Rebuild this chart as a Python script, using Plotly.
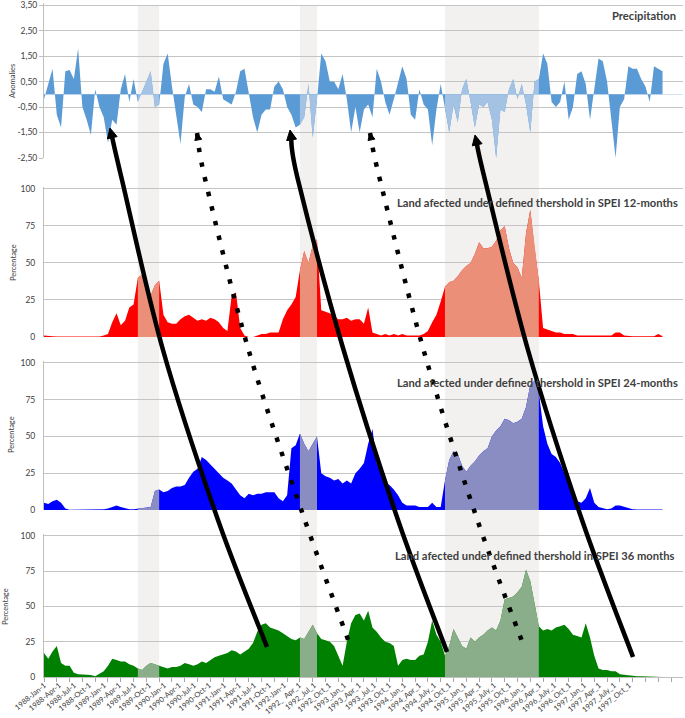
import plotly.graph_objects as go

# ---------------- data (monthly, index 0 = 1988-Jan) ----------------
MONTHS = list(range(146))

PRECIP = [-0.2, 0.4, 1.0, -0.8, -1.3, 0.9, 0.95, 0.6, 1.8, -0.5,
          -1.0, -1.6, 0.2, -0.5, -0.9, -1.9, -1.0, -1.2, 0.2, 0.8,
          -0.3, 0.6, -0.3, 0.1, 0.5, 0.9, -0.5, -0.4, 1.2, 1.6,
          0.3, -0.8, -1.95, -0.1, 0.4, -0.4, -0.5, -0.7, 0.2, 0.2,
          0.1, 0.7, -0.2, -0.3, -0.4, 0.1, 0.9, 1.0, 0.0, -0.9,
          -1.5, -0.8, -0.6, -0.6, 0.3, 0.5, 0.2, -0.5, -0.8, -1.3,
          -1.2, -0.9, 0.4, -1.7, -0.2, 1.6, 1.3, 0.5, 0.5, 0.2,
          0.8, -0.2, -1.5, -0.5, -1.5, -0.6, -0.4, -0.9, 1.0, 0.5,
          -0.3, -0.8, -0.2, 0.4, 1.1, 0.6, -0.8, -1.0, 0.2, -0.4,
          -0.6, -2.0, -0.6, 0.4, -0.5, -1.5, -0.4, -1.1, 0.2, 0.6,
          -0.3, -1.3, -0.4, -0.5, -0.3, -1.0, -2.5, -0.6, -0.7, 0.2,
          0.6, -0.2, 0.4, -0.4, -1.5, 0.5, 0.6, 1.6, 1.2, -0.3,
          -0.5, -0.3, 0.5, -1.0, -0.5, 0.8, 0.9, 0.4, -1.0, 0.2,
          1.4, 1.3, 0.5, -1.0, -2.5, -0.5, -0.2, 1.1, 1.0, 1.0,
          0.6, 0.3, -0.3, 1.1, 1.0, 0.9]

SPEI12 = [1, 1, 0.5, 0.3, 0.3, 0.3, 0.3, 0.3, 0.3, 0.3,
          0.3, 0.3, 0.3, 0.3, 1, 2, 10, 16, 8, 11,
          20, 22, 40, 42, 38, 28, 35, 38, 15, 10,
          9, 9, 12, 14, 15, 13, 11, 12, 11, 13,
          12, 10, 6, 4, 28, 30, 6, 1, 0, 0,
          1, 2, 2, 3, 3, 3, 12, 18, 22, 27,
          45, 58, 50, 62, 66, 18, 17, 16, 14, 12,
          12, 13, 11, 12, 12, 9, 20, 3, 2, 1,
          2, 1, 2, 1, 2, 1, 1, 1, 1, 2,
          4, 10, 15, 24, 34, 37, 38, 41, 45, 48,
          50, 56, 64, 60, 60, 61, 65, 72, 75, 60,
          50, 47, 40, 70, 86, 60, 38, 6, 5, 4,
          3, 3, 2, 2, 2, 1, 1, 0.5, 0.5, 0.5,
          0.5, 0.5, 0.5, 1, 3, 3, 1, 0.5, 0.5, 0.5,
          0.5, 0.5, 0.5, 0.5, 2, 0.5]

SPEI24 = [5, 4, 6, 7, 5, 1, 0.2, 0.2, 0.2, 0.2,
          0.2, 0.2, 0.2, 0.2, 0.5, 1, 2, 3, 2, 1,
          0.5, 0.5, 1, 1, 1.5, 2, 13, 14, 12, 13,
          15, 16, 16, 17, 22, 26, 28, 36, 34, 31,
          28, 25, 22, 20, 18, 14, 10, 8, 11, 10,
          11, 11, 12, 12, 12, 8, 6, 10, 42, 44,
          52, 45, 40, 45, 50, 25, 23, 22, 20, 21,
          18, 20, 18, 25, 28, 32, 45, 55, 32, 25,
          18, 17, 14, 10, 5, 3, 3, 3, 2, 2,
          2, 5, 2, 2, 20, 34, 40, 38, 30, 26,
          30, 33, 37, 40, 42, 50, 54, 57, 62, 61,
          59, 60, 62, 70, 85, 88, 80, 57, 45, 38,
          36, 32, 25, 18, 13, 6, 5, 8, 15, 5,
          2, 1, 0.5, 1, 3, 3, 2, 1, 0.5, 0.3,
          0.3, 0.3, 0.3, 0.3, 0.3, 0.3]

SPEI36 = [17, 13, 18, 22, 10, 8, 8, 3, 2, 2,
          2, 1.5, 0.5, 2, 4, 8, 13, 12, 11, 11,
          9, 8, 6, 5, 8, 10, 9, 8, 7, 6,
          7, 7, 8, 10, 9, 8, 9, 11, 10, 12,
          14, 15, 16, 17, 19, 18, 16, 18, 20, 24,
          32, 37, 38, 35, 34, 33, 31, 29, 27, 26,
          28, 27, 32, 37, 31, 27, 26, 25, 22, 15,
          8, 25, 38, 44, 45, 40, 47, 35, 32, 28,
          25, 24, 22, 8, 12, 13, 12, 12, 15, 16,
          25, 40, 30, 25, 15, 22, 34, 28, 22, 20,
          28, 25, 28, 30, 33, 35, 33, 40, 55, 56,
          57, 60, 64, 76, 68, 52, 36, 33, 34, 33,
          35, 36, 37, 34, 30, 29, 28, 38, 28, 15,
          6, 5, 5, 4, 4, 2, 1.5, 1, 0.5, 0.5,
          0.5, 0.5, 0.5, 0.2, 0, 0]

# drought periods highlighted (start month, end month)
BANDS = [(22, 27), (60, 64), (94, 116)]

TICK_LABELS = ["1988-Jan-1", "1988-Apr-1", "1988-Jul-1", "1988-Oct-1",
               "1989-Jan-1", "1989-Apr-1", "1989-Jul-1", "1989-Oct-1",
               "1990-Jan-1", "1990-Apr-1", "1990-Jul-1", "1990-Oct-1",
               "1991-Jan-1", "1991-Apr-1", "1991-Jul-1", "1991-Oct-1",
               "1992-Jan-1", "1992_  Apr_1", "1992_Jul_1", "1992_Oct_1",
               "1993_Jan_1", "1993_Apr_1", "1993_Jul_1", "1993_Oct_1",
               "1994_Jan_1", "1994_Apr_1", "1994_July_1", "1994_Oct_1",
               "1995_Jan_1", "1995_Apr_1", "1995_July_1", "1995_Oct_1",
               "1996_Jan_1", "1996_Apr_1", "1996_July_1", "1996_Oct_1",
               "1997_Jan_1", "1997_Apr_1", "1997_July_1", "1997_Oct_1"]

PRECIP_TICKS = [3.5, 2.5, 1.5, 0.5, -0.5, -1.5, -2.5]
PRECIP_TICKTEXT = ["3,50", "2,50", "1,50", "0,50", "-0,50", "-1,50", "-2,50"]
PCT_TICKS = [0, 25, 50, 75, 100]

# ---------------- geometry ----------------
W, H = 685, 718
ML, MR, MT, MB = 44, 2, 2, 41
PW, PH = W - ML - MR, H - MT - MB


def px(x):
    return (x - ML) / PW


def py(y):
    return 1 - (y - MT) / PH


XRANGE = [0, 149.8]
FONT = "Lato"
TXT = "#404040"
GRID = "#C4C4C4"

panels = [
    dict(data=PRECIP, main="#5B9BD5", light="#A4C2E4", dom=[py(158), py(2.5)],
         rng=[-2.5, 3.6], title="Precipitation"),
    dict(data=SPEI12, main="#FF0000", light="#EC8F78", dom=[py(337), py(187)],
         rng=[0, 101.3], title="Land afected under defined thershold in SPEI 12-months"),
    dict(data=SPEI24, main="#0000FF", light="#8A8DC2", dom=[py(510), py(361)],
         rng=[0, 101.3], title="Land afected under defined thershold in SPEI 24-months"),
    dict(data=SPEI36, main="#008000", light="#8AAE8A", dom=[py(677), py(534)],
         rng=[0, 101.3], title="Land afected under defined thershold in SPEI 36 months"),
]

fig = go.Figure()

for i, p in enumerate(panels):
    sx = "" if i == 0 else str(i + 1)
    xa, ya = "x" + sx, "y" + sx
    vals = p["data"]
    fig.add_trace(go.Scatter(x=MONTHS, y=vals, mode="lines", fill="tozeroy",
                             line=dict(width=0, color=p["main"]),
                             fillcolor=p["main"], xaxis=xa, yaxis=ya,
                             hoverinfo="skip"))
    for a, b in BANDS:
        fig.add_trace(go.Scatter(x=MONTHS[a:b + 1], y=vals[a:b + 1], mode="lines",
                                 fill="tozeroy", line=dict(width=0, color=p["light"]),
                                 fillcolor=p["light"], xaxis=xa, yaxis=ya,
                                 hoverinfo="skip"))

    xkey = "xaxis" + sx
    ykey = "yaxis" + sx
    xa_d = dict(domain=[0, 1], range=XRANGE, anchor=ya, showgrid=False,
                zeroline=False, showline=False, showticklabels=False, ticks="")
    if i == 3:
        xa_d.update(showline=True, linecolor="#BFBFBF", linewidth=1,
                    showticklabels=True, tickmode="array",
                    tickvals=[0.05 + 3.516 * k for k in range(len(TICK_LABELS))],
                    ticktext=TICK_LABELS, tickangle=-40,
                    tickfont=dict(family=FONT, size=7.5, color=TXT),
                    minor=dict(tickmode="linear", tick0=0, dtick=3, ticks="outside",
                               ticklen=4, tickcolor="#A6A6A6", showgrid=False))
    else:
        xa_d["matches"] = "x4"
    ya_d = dict(domain=p["dom"], range=p["rng"], showgrid=True, gridcolor=GRID,
                gridwidth=1.2, showline=True, linecolor="#BFBFBF", linewidth=1,
                tickfont=dict(family=FONT, size=8.5, color=TXT), anchor=xa,
                ticklabeloverflow="allow")
    if i == 0:
        ya_d.update(tickmode="array", tickvals=PRECIP_TICKS, ticktext=PRECIP_TICKTEXT,
                    ticks="outside", ticklen=4, tickcolor="#BFBFBF",
                    zeroline=True, zerolinecolor="#D5E3F2", zerolinewidth=1)
    else:
        ya_d.update(tickmode="array", tickvals=PCT_TICKS, ticks="",
                    ticklabelstandoff=6, zeroline=False)
    fig.layout[xkey] = xa_d
    fig.layout[ykey] = ya_d

# ---------------- shaded drought periods ----------------
shapes = []
for a, b in BANDS:
    shapes.append(dict(type="rect", xref="x4", yref="paper", x0=a, x1=b,
                       y0=0, y1=py(5), fillcolor="#F2F1EF", line=dict(width=0),
                       layer="below"))


# ---------------- propagation arrows (overlay drawn in figure pixels) ----------------
def curve(pts):
    ext = [pts[0]] + pts + [pts[-1]]
    d = f"M {px(pts[0][0]):.5f},{py(pts[0][1]):.5f}"
    for k in range(1, len(ext) - 2):
        p0, p1, p2, p3 = ext[k - 1], ext[k], ext[k + 1], ext[k + 2]
        c1 = (p1[0] + (p2[0] - p0[0]) / 6, p1[1] + (p2[1] - p0[1]) / 6)
        c2 = (p2[0] - (p3[0] - p1[0]) / 6, p2[1] - (p3[1] - p1[1]) / 6)
        d += (f" C {px(c1[0]):.5f},{py(c1[1]):.5f} {px(c2[0]):.5f},{py(c2[1]):.5f}"
              f" {px(p2[0]):.5f},{py(p2[1]):.5f}")
    return d


def head(tip, nxt, L, Wd):
    dx, dy = tip[0] - nxt[0], tip[1] - nxt[1]
    n = (dx * dx + dy * dy) ** 0.5
    dx, dy = dx / n, dy / n
    bx, by = tip[0] - dx * L, tip[1] - dy * L
    c1 = (bx - dy * Wd, by + dx * Wd)
    c2 = (bx + dy * Wd, by - dx * Wd)
    return (f"M {px(tip[0]):.5f},{py(tip[1]):.5f} L {px(c1[0]):.5f},{py(c1[1]):.5f}"
            f" L {px(c2[0]):.5f},{py(c2[1]):.5f} Z")


SOLID = [
    [(110, 128), (122, 180), (163, 350), (218, 520), (267, 647)],
    [(290, 130), (298, 180), (343, 348), (398, 520), (447, 652)],
    [(475, 135), (485, 180), (528, 350), (582, 520), (633, 657)],
]
DOTTED = [
    [(197, 133), (206, 183), (248, 348), (302, 512), (350, 645)],
    [(370, 133), (380, 180), (423, 348), (475, 513), (523, 644)],
]

for pts in SOLID:
    tip = pts[0]
    body = [(tip[0] + (pts[1][0] - tip[0]) * 0.12, tip[1] + (pts[1][1] - tip[1]) * 0.12)] + pts[1:]
    shapes.append(dict(type="path", xref="paper", yref="paper", path=curve(body),
                       line=dict(color="black", width=4.5), fillcolor="rgba(0,0,0,0)",
                       layer="above"))
    shapes.append(dict(type="path", xref="paper", yref="paper", path=head(tip, pts[1], 10, 5),
                       line=dict(color="black", width=1), fillcolor="black", layer="above"))

for pts in DOTTED:
    tip = pts[0]
    shapes.append(dict(type="path", xref="paper", yref="paper", path=curve(pts),
                       line=dict(color="black", width=4.5, dash="4.5px,10.5px"),
                       fillcolor="rgba(0,0,0,0)", layer="above"))
    shapes.append(dict(type="path", xref="paper", yref="paper", path=head(tip, pts[1], 7, 3.5),
                       line=dict(color="black", width=1), fillcolor="black", layer="above"))

# ---------------- text ----------------
annotations = [
    dict(text="<b>Precipitation</b>", x=px(678), y=py(16), xanchor="right"),
    dict(text="<b>" + panels[1]["title"] + "</b>", x=px(680), y=py(203), xanchor="right"),
    dict(text="<b>" + panels[2]["title"] + "</b>", x=px(680), y=py(382), xanchor="right"),
    dict(text="<b>" + panels[3]["title"] + "</b>", x=px(676), y=py(555), xanchor="right"),
]
for a in annotations:
    a.update(xref="paper", yref="paper", yanchor="middle", showarrow=False,
             font=dict(family=FONT, size=11.2, color=TXT))

for t, x, y in [("Anomalies", 12, 81), ("Percentage", 13, 263),
                ("Percentage", 12, 435), ("Percentage", 5, 607)]:
    annotations.append(dict(text=t, x=px(x), y=py(y), xref="paper", yref="paper",
                            textangle=-90, showarrow=False, xanchor="center",
                            yanchor="middle", font=dict(family=FONT, size=7.5, color=TXT)))

fig.update_layout(width=W, height=H, margin=dict(l=ML, r=MR, t=MT, b=MB, autoexpand=False),
                  plot_bgcolor="white", paper_bgcolor="white", showlegend=False,
                  shapes=shapes, annotations=annotations)

fig.write_html("out.html", config={"displayModeBar": False},
               post_script="document.body.style.margin='0';document.body.style.padding='0';")
